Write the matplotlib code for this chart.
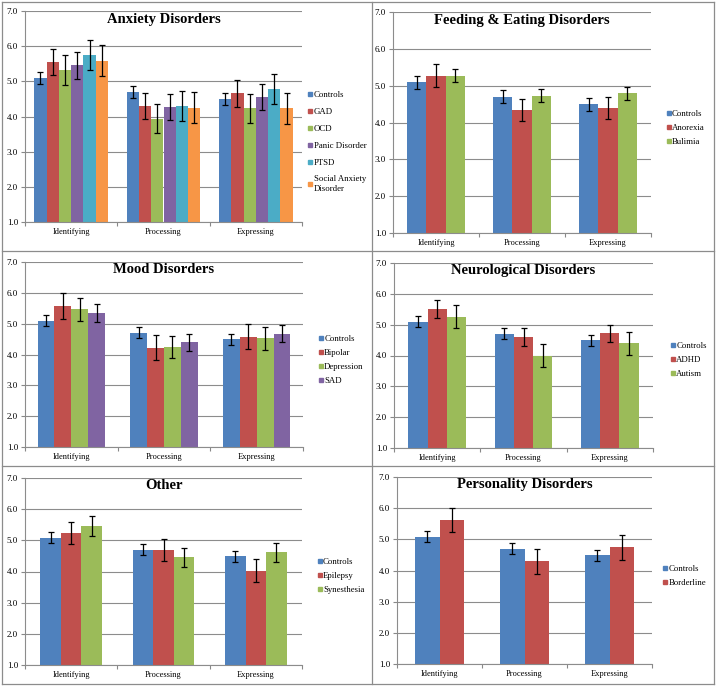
import matplotlib.pyplot as plt
from matplotlib.lines import Line2D
import numpy as np

plt.rcParams['font.family'] = ['Liberation Serif', 'DejaVu Serif']

categories = ['Identifying', 'Processing', 'Expressing']
colors = ['#4F81BD', '#C0504D', '#9BBB59', '#8064A2', '#4BACC6', '#F79646']

controls_mean = [5.09, 4.70, 4.49]
controls_err = [0.18, 0.18, 0.17]

# Anxiety Disorders
anx_groups = ['Controls', 'GAD', 'OCD', 'Panic Disorder', 'PTSD', 'Social Anxiety\nDisorder']
anx_means = [controls_mean, [5.55, 4.30, 4.66], [5.33, 3.94, 4.23],
             [5.46, 4.26, 4.56], [5.75, 4.30, 4.79], [5.58, 4.25, 4.23]]
anx_errs = [controls_err, [0.38, 0.36, 0.38], [0.43, 0.41, 0.42],
            [0.38, 0.37, 0.37], [0.43, 0.43, 0.43], [0.44, 0.44, 0.45]]

# Feeding & Eating Disorders
feed_groups = ['Controls', 'Anorexia', 'Bulimia']
feed_means = [controls_mean, [5.27, 4.33, 4.39], [5.27, 4.73, 4.79]]
feed_errs = [controls_err, [0.31, 0.30, 0.30], [0.17, 0.17, 0.17]]

# Mood Disorders
mood_groups = ['Controls', 'Bipolar', 'Depression', 'SAD']
mood_means = [controls_mean, [5.57, 4.22, 4.58], [5.46, 4.25, 4.52], [5.36, 4.39, 4.68]]
mood_errs = [controls_err, [0.42, 0.40, 0.40], [0.37, 0.36, 0.36], [0.29, 0.28, 0.28]]

# Neurological Disorders
neuro_groups = ['Controls', 'ADHD', 'Autism']
neuro_means = [controls_mean, [5.50, 4.59, 4.72], [5.26, 4.00, 4.40]]
neuro_errs = [controls_err, [0.29, 0.29, 0.28], [0.38, 0.38, 0.37]]

# Other
other_groups = ['Controls', 'Epilepsy', 'Synesthesia']
other_means = [controls_mean, [5.23, 4.68, 4.03], [5.47, 4.45, 4.61]]
other_errs = [controls_err, [0.35, 0.35, 0.36], [0.32, 0.32, 0.32]]

# Personality Disorders
pers_groups = ['Controls', 'Borderline']
pers_means = [controls_mean, [5.62, 4.30, 4.75]]
pers_errs = [controls_err, [0.40, 0.40, 0.40]]

W, H = 716, 687
fig = plt.figure(figsize=(W / 100, H / 100), dpi=100)


def px_axes(l, r, t, b):
    return fig.add_axes([l / W, 1 - b / H, (r - l) / W, (b - t) / H])


panels = [
    ('Anxiety Disorders', anx_groups, anx_means, anx_errs, (25, 302, 11, 222), (1.02, 0.38), 1.0),
    ('Feeding & Eating Disorders', feed_groups, feed_means, feed_errs, (393, 651, 12, 233), (1.058, 0.475), 0.65),
    ('Mood Disorders', mood_groups, mood_means, mood_errs, (25, 303, 262, 447), (1.054, 0.47), 0.65),
    ('Neurological Disorders', neuro_groups, neuro_means, neuro_errs, (394, 653, 263, 448), (1.066, 0.476), 0.65),
    ('Other', other_groups, other_means, other_errs, (25, 302, 478, 665), (1.054, 0.476), 0.65),
    ('Personality Disorders', pers_groups, pers_means, pers_errs, (397, 652, 477, 664), (1.04, 0.47), 0.65),
]

x = np.arange(len(categories))
for title, groups, means, errs, box, leg_pos, spacing in panels:
    ax = px_axes(*box)
    n = len(groups)
    width = 1 / (n + 1.5)
    handles = []
    for i in range(n):
        pos = x - width * n / 2 + width * (i + 0.5)
        ax.bar(pos, means[i], width, color=colors[i], zorder=2)
        ax.errorbar(pos, means[i], yerr=errs[i], fmt='none', ecolor='black',
                    elinewidth=0.9, capsize=2, capthick=0.9, zorder=3)
        handles.append(Line2D([], [], marker='s', linestyle='none', color=colors[i],
                              markersize=3.5))
    ax.set_xlim(-0.5, 2.5)
    ax.set_ylim(1, 7)
    ax.set_yticks(np.arange(1, 8))
    ax.set_yticklabels([f'{v:.1f}' for v in range(1, 8)], fontsize=6.5)
    ax.set_xticks([-0.5, 0.5, 1.5, 2.5])
    ax.set_xticklabels([])
    ax.set_xticks(x, minor=True)
    ax.set_xticklabels(categories, minor=True, fontsize=6)
    ax.tick_params(axis='x', which='minor', length=0, pad=4)
    ax.tick_params(axis='x', which='major', length=3, color='#888888', direction='out')
    ax.tick_params(axis='y', length=3, color='#888888', direction='out', pad=2)
    ax.grid(axis='y', color='#8c8c8c', linewidth=0.8, zorder=0)
    ax.set_axisbelow(True)
    for s in ['top', 'right']:
        ax.spines[s].set_visible(False)
    for s in ['left', 'bottom']:
        ax.spines[s].set_color('#8c8c8c')
        ax.spines[s].set_linewidth(0.8)
    ax.text(0.5, 0.96, title, transform=ax.transAxes, ha='center', va='center',
            fontsize=10.5, fontweight='bold')
    ax.legend(handles, groups, loc='center left', bbox_to_anchor=leg_pos, frameon=False,
              fontsize=6.3, borderaxespad=0, borderpad=0, handletextpad=0.1,
              handlelength=0.6, labelspacing=spacing)

# panel borders
border = dict(color='#8c8c8c', linewidth=0.9, transform=fig.transFigure)
for xx in [1.5, 372, 714]:
    fig.add_artist(Line2D([xx / W, xx / W], [1 - 1.5 / H, 1 - 684 / H], **border))
for yy in [1.5, 251, 466, 684]:
    fig.add_artist(Line2D([1.5 / W, 714 / W], [1 - yy / H, 1 - yy / H], **border))

fig.savefig('out.png', dpi=100)
